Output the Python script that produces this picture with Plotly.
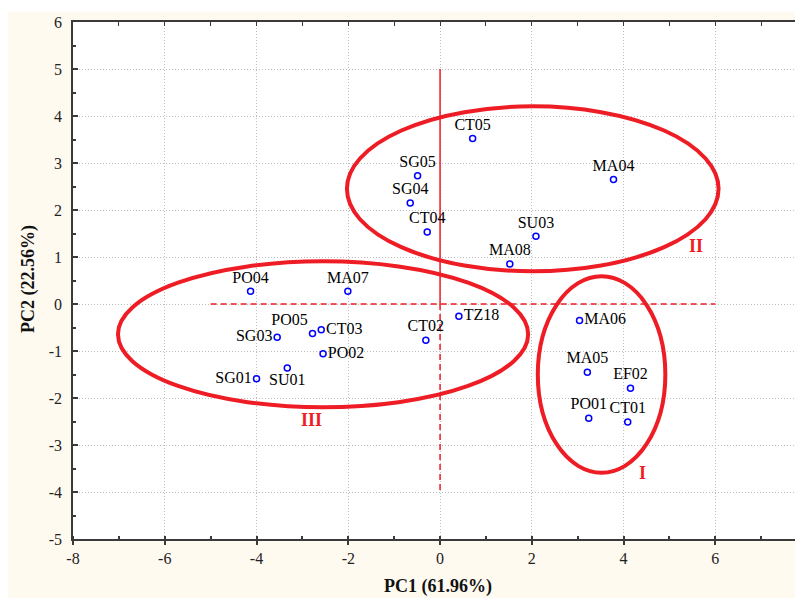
import plotly.graph_objects as go

# ---- data ----
labels = ["PO04", "MA07", "CT05", "SG05", "SG04", "CT04", "SU03", "MA08", "MA04",
          "PO05", "CT03", "SG03", "PO02", "SU01", "SG01", "TZ18", "CT02",
          "MA06", "MA05", "EF02", "PO01", "CT01"]
pc1 = [-4.13, -2.01, 0.71, -0.49, -0.65, -0.28, 2.09, 1.52, 3.78,
       -2.78, -2.59, -3.55, -2.55, -3.33, -4.00, 0.41, -0.31,
       3.04, 3.21, 4.15, 3.24, 4.09]
pc2 = [0.27, 0.27, 3.52, 2.73, 2.15, 1.53, 1.44, 0.85, 2.65,
       -0.63, -0.55, -0.71, -1.06, -1.36, -1.59, -0.26, -0.77,
       -0.35, -1.45, -1.79, -2.43, -2.51]
label_pos = ["top center", "top center", "top center", "top center", "top center",
             "top center", "top center", "top center", "top center",
             "top left", "middle right", "middle left", "middle right",
             "bottom center", "middle left", "middle right", "top center",
             "middle right", "top center", "top center", "top center", "top center"]

x_tickvals = [-8, -6, -4, -2, 0, 2, 4, 6]
x_ticktext = ["-8", "-6", "-4", "-2", "0", "2", "4", "6"]
y_tickvals = [-5, -4, -3, -2, -1, 0, 1, 2, 3, 4, 5, 6]
y_ticktext = ["-5", "-4", "-3", "-2", "-1", "0", "1", "2", "3", "4", "5", "6"]

# cluster ellipses: center x, center y, semi-axis x, semi-axis y
cluster_names = ["I", "II", "III"]
ell_cx = [3.52, 2.02, -2.55]
ell_cy = [-1.50, 2.45, -0.645]
ell_ax = [1.39, 4.05, 4.47]
ell_ay = [2.09, 1.755, 1.553]
cluster_lbl_x = [4.41, 5.58, -2.81]
cluster_lbl_y = [-3.60, 1.23, -2.46]

# reference lines
vline_solid_x = [0, 0]
vline_solid_y = [5, 0]
vline_dash_x = [0, 0]
vline_dash_y = [0, -4]
hline_x = [-5, 6]
hline_y = [0, 0]

RED = "#ee1c24"
SERIF = "Liberation Serif"

fig = go.Figure()

fig.add_trace(go.Scatter(x=vline_solid_x, y=vline_solid_y, mode="lines",
                         line=dict(color=RED, width=1.5), showlegend=False, hoverinfo="skip"))
fig.add_trace(go.Scatter(x=vline_dash_x, y=vline_dash_y, mode="lines",
                         line=dict(color=RED, width=1.5, dash="6px,4px"), showlegend=False, hoverinfo="skip"))
fig.add_trace(go.Scatter(x=hline_x, y=hline_y, mode="lines",
                         line=dict(color=RED, width=1.5, dash="6px,4px"), showlegend=False, hoverinfo="skip"))

fig.add_trace(go.Scatter(
    x=pc1, y=pc2, mode="markers+text", text=labels, textposition=label_pos,
    marker=dict(symbol="circle-open", size=6, color="#0000ff", line=dict(width=1.5, color="#0000ff")),
    textfont=dict(family=SERIF, size=16, color="#000000"),
    showlegend=False))

# invisible trace for top axis
fig.add_trace(go.Scatter(x=[0], y=[0], xaxis="x2", mode="markers",
                         marker=dict(opacity=0), showlegend=False, hoverinfo="skip"))

for cx, cy, ax, ay in zip(ell_cx, ell_cy, ell_ax, ell_ay):
    fig.add_shape(type="circle", xref="x", yref="y",
                  x0=cx - ax, x1=cx + ax, y0=cy - ay, y1=cy + ay,
                  line=dict(color=RED, width=4))

for name, lx, ly in zip(cluster_names, cluster_lbl_x, cluster_lbl_y):
    fig.add_annotation(x=lx, y=ly, text="<b>" + name + "</b>", showarrow=False,
                       font=dict(family=SERIF, size=18, color=RED))

# thin white strip at the top of the cream background
fig.add_shape(type="rect", xref="paper", yref="paper", x0=-0.2, x1=1.2, y0=1.0193, y1=1.1,
              fillcolor="white", line=dict(width=0), layer="below")

fig.add_annotation(xref="paper", yref="paper", x=0.5, y=-0.0928, text="<b>PC1 (61.96%)</b>",
                   showarrow=False, font=dict(family=SERIF, size=18, color="#111111"),
                   xanchor="center", yanchor="middle")
fig.add_annotation(xref="paper", yref="paper", x=-0.0603, y=0.503, text="<b>PC2 (22.56%)</b>",
                   showarrow=False, textangle=-90, font=dict(family=SERIF, size=18, color="#111111"),
                   xanchor="center", yanchor="middle")

axis_common = dict(showline=True, linecolor="#3a3a3a", linewidth=1.5, zeroline=False,
                   gridcolor="#bdbdbd", griddash="1px,2px", gridwidth=1,
                   tickfont=dict(family=SERIF, size=16, color="#222222"),
                   tickcolor="#3a3a3a")

fig.update_layout(
    width=795, height=590,
    margin=dict(l=65, r=0, t=14, b=59),
    paper_bgcolor="#fffaf0", plot_bgcolor="white",
    showlegend=False,
    xaxis=dict(range=[-8, 7.91], tickmode="array", tickvals=x_tickvals, ticktext=x_ticktext,
               ticks="outside", ticklen=4, tickwidth=1.5, ticklabelstandoff=0,
               minor=dict(dtick=1, tick0=-8, ticks="inside", ticklen=3, tickcolor="#3a3a3a", showgrid=False),
               **axis_common),
    xaxis2=dict(range=[-8, 7.91], overlaying="x", side="top", showgrid=False,
                showticklabels=False, ticks="inside", ticklen=4, dtick=1, tick0=-8,
                showline=True, linecolor="#3a3a3a", linewidth=1.5, tickcolor="#3a3a3a", zeroline=False),
    yaxis=dict(range=[-5, 6], tickmode="array", tickvals=y_tickvals, ticktext=y_ticktext,
               ticks="inside", ticklen=5, tickwidth=1.5, ticklabelstandoff=6,
               minor=dict(dtick=0.5, tick0=-5, ticks="inside", ticklen=3, tickcolor="#3a3a3a", showgrid=False),
               **axis_common),
)

fig.write_html("out.html")
